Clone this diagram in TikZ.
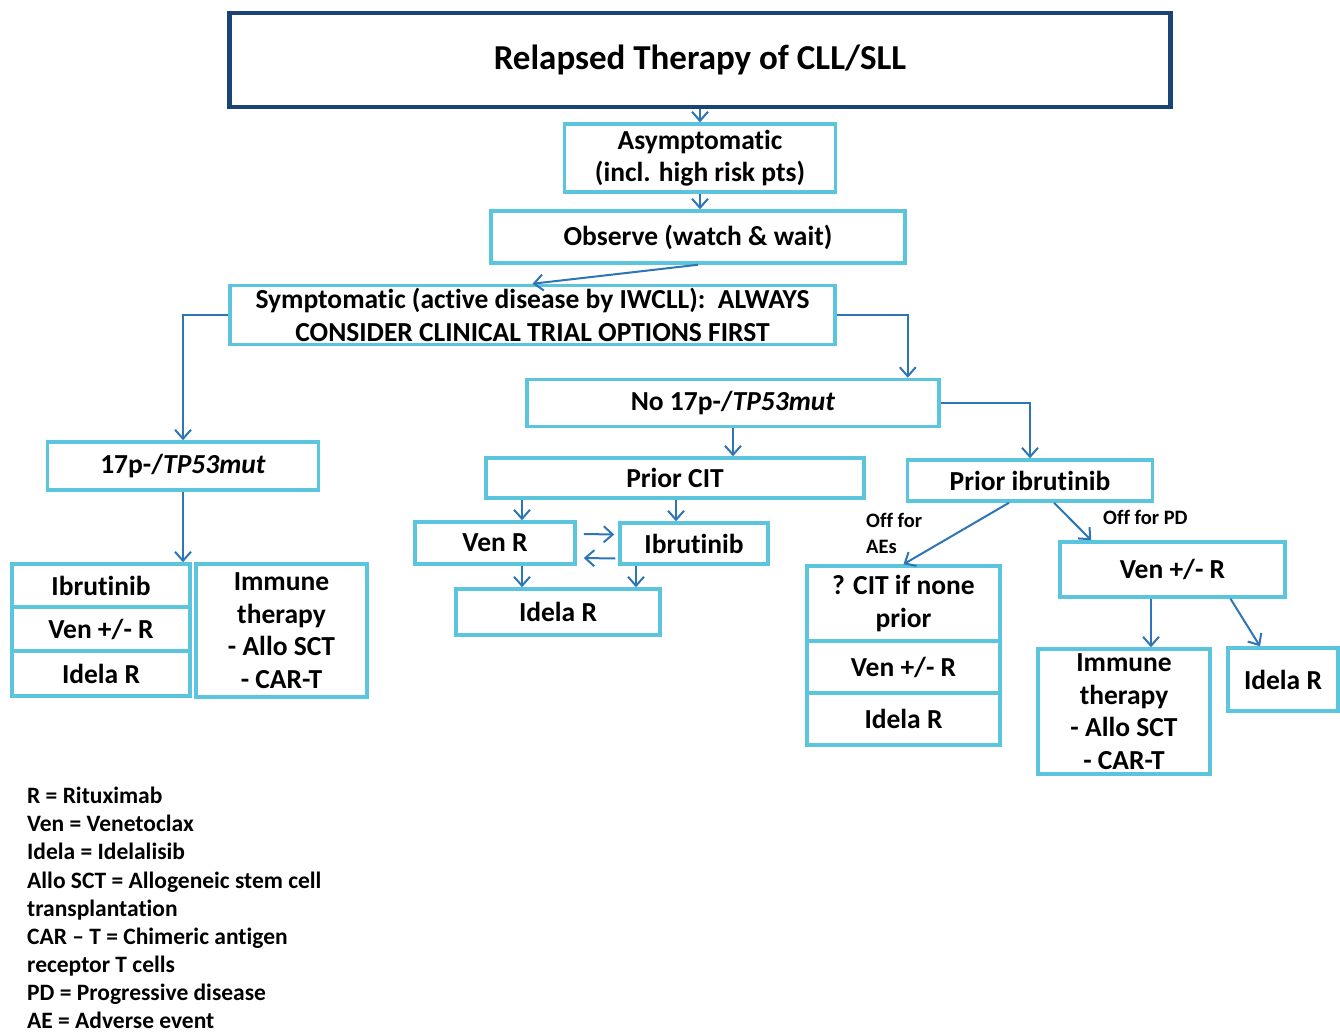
\documentclass[tikz,border=0pt]{standalone}
\usepackage{fontspec}
\setmainfont{Carlito}[Ligatures=CommonOff]
\usetikzlibrary{arrows.meta,calc}
\definecolor{boxc}{RGB}{91,197,222}
\definecolor{arrc}{RGB}{46,117,182}
\definecolor{titc}{RGB}{26,68,118}
\begin{document}
\begin{tikzpicture}[x=1pt,y=-1pt,
 box/.style={draw=boxc, line width=3.5pt, fill=white, inner sep=0pt, align=center, font=\fontsize{27.5}{32.5}\selectfont\bfseries},
 arr/.style={draw=arrc, line width=2pt, -{Straight Barb[length=9pt,width=16pt]}},
 lbl/.style={font=\fontsize{20.5}{25}\selectfont\bfseries, inner sep=0pt, anchor=base west},
 leg/.style={font=\fontsize{23.5}{28}\selectfont\bfseries, inner sep=0pt, anchor=base west}]
\useasboundingbox (0,0) rectangle (1340,1032);
\fill[white] (0,0) rectangle (1340,1032);

% boxes
\node[box, draw=titc, line width=4.5pt, minimum width=941pt, minimum height=94pt, font=\fontsize{35}{40}\selectfont\bfseries] (title) at (700,60) {Relapsed Therapy of CLL/SLL};
\node[box, minimum width=271pt, minimum height=68pt] (asym) at (700,158) {Asymptomatic\\(incl. high risk pts)};
\node[box, minimum width=414pt, minimum height=52pt] (obs) at (698,237) {Observe (watch \& wait)};
\node[box, minimum width=605pt, minimum height=59pt] (symp) at (532.5,315) {Symptomatic (active disease by IWCLL):\ \ ALWAYS\\CONSIDER CLINICAL TRIAL OPTIONS FIRST};
\node[box, minimum width=271pt, minimum height=48pt] (p17) at (183,466) {17p-/\textit{TP53mut}};
\node[box, minimum width=178pt, minimum height=43pt] (ibrL) at (101,585.5) {Ibrutinib};
\node[box, minimum width=178pt, minimum height=44pt] (venL) at (101,629) {Ven +/- R};
\node[box, minimum width=178pt, minimum height=45pt] (idelaL) at (101,673.5) {Idela R};
\node[box, minimum width=171pt, minimum height=133pt] (immL) at (281.5,630.5) {Immune\\therapy\\- Allo SCT\\- CAR-T};
\node[box, minimum width=412pt, minimum height=47pt] (no17) at (733,403) {No 17p-/\textit{TP53mut}};
\node[box, minimum width=378pt, minimum height=40pt] (pcit) at (675,478) {Prior CIT};
\node[box, minimum width=160pt, minimum height=42pt] (venR) at (495,543) {Ven R};
\node[box, minimum width=148pt, minimum height=41pt] (ibrM) at (694,543.5) {Ibrutinib};
\node[box, minimum width=204pt, minimum height=46pt] (idelaM) at (558,612) {Idela R};
\node[box, minimum width=245pt, minimum height=41pt] (pibr) at (1030,480.5) {Prior ibrutinib};
\node[box, minimum width=193pt, minimum height=75pt] (cit) at (903.5,603.5) {? CIT if none\\prior};
\node[box, minimum width=193pt, minimum height=52pt] (venS) at (903.5,667) {Ven +/- R};
\node[box, minimum width=193pt, minimum height=52pt] (idelaS) at (903.5,719) {Idela R};
\node[box, minimum width=225pt, minimum height=55pt] (venR2) at (1172.5,569.5) {Ven +/- R};
\node[box, minimum width=172pt, minimum height=125pt] (imm2) at (1124,711.5) {Immune\\therapy\\- Allo SCT\\- CAR-T};
\node[box, minimum width=110pt, minimum height=63pt] (idela2) at (1283,679.5) {Idela R};

% helper coordinates
\coordinate (c522) at (522,0);
\coordinate (c636) at (636,0);
\coordinate (c1151) at (1151,0);

% connectors
\draw[arr] (title.south) -- (asym.north);
\draw[arr] (asym.south) -- (asym.south |- obs.north);
\draw[arr] (obs.south) -- (symp.north);
\draw[arr] (symp.west) -| (p17.north);
\draw[arr] (symp.east) -| ($(no17.north east)+(-33,0)$);
\draw[arr] (p17.south) -- (p17.south |- ibrL.north);
\draw[arr] (no17.south) -- (no17.south |- pcit.north);
\draw[arr] (no17.east) -| (pibr.north);
\draw[arr] (pcit.south -| c522) -- (venR.north -| c522);
\draw[arr] ($(pcit.south -| ibrM.north)+(-18,0)$) -- ($(ibrM.north)+(-18,0)$);
\draw[arr] ($(venR.east)+(7,-9)$) -- ($(ibrM.west)+(-4,-9)$);
\draw[arr] ($(ibrM.west)+(-3,15)$) -- ($(venR.east)+(7,15)$);
\draw[arr] (venR.south -| c522) -- (idelaM.north -| c522);
\draw[arr] (ibrM.south -| c636) -- (idelaM.north -| c636);
\draw[arr] ($(pibr.south)+(-21,0)$) -- (cit.north);
\draw[arr] ($(pibr.south)+(24,0)$) -- ($(venR2.north west)+(33,0)$);
\draw[arr] (venR2.south -| c1151) -- (imm2.north -| c1151);
\draw[arr] ($(venR2.south)+(58,0)$) -- ($(idela2.north)+(-23,0)$);

% labels
\node[lbl] (l1) at (866,527) {Off for};
\node[lbl] (l2) at (866,553) {AEs};
\node[lbl] (l3) at (1103,524) {Off for PD};

% legend
\node[leg] (g1) at (27,803) {R = Rituximab};
\node[leg] (g2) at (27,831) {Ven = Venetoclax};
\node[leg] (g3) at (27,859) {Idela = Idelalisib};
\node[leg] (g4) at (27,888) {Allo SCT = Allogeneic stem cell};
\node[leg] (g5) at (27,916) {transplantation};
\node[leg] (g6) at (27,944) {CAR -- T = Chimeric antigen};
\node[leg] (g7) at (27,972) {receptor T cells};
\node[leg] (g8) at (27,1000) {PD = Progressive disease};
\node[leg] (g9) at (27,1028) {AE = Adverse event};
\end{tikzpicture}
\end{document}
